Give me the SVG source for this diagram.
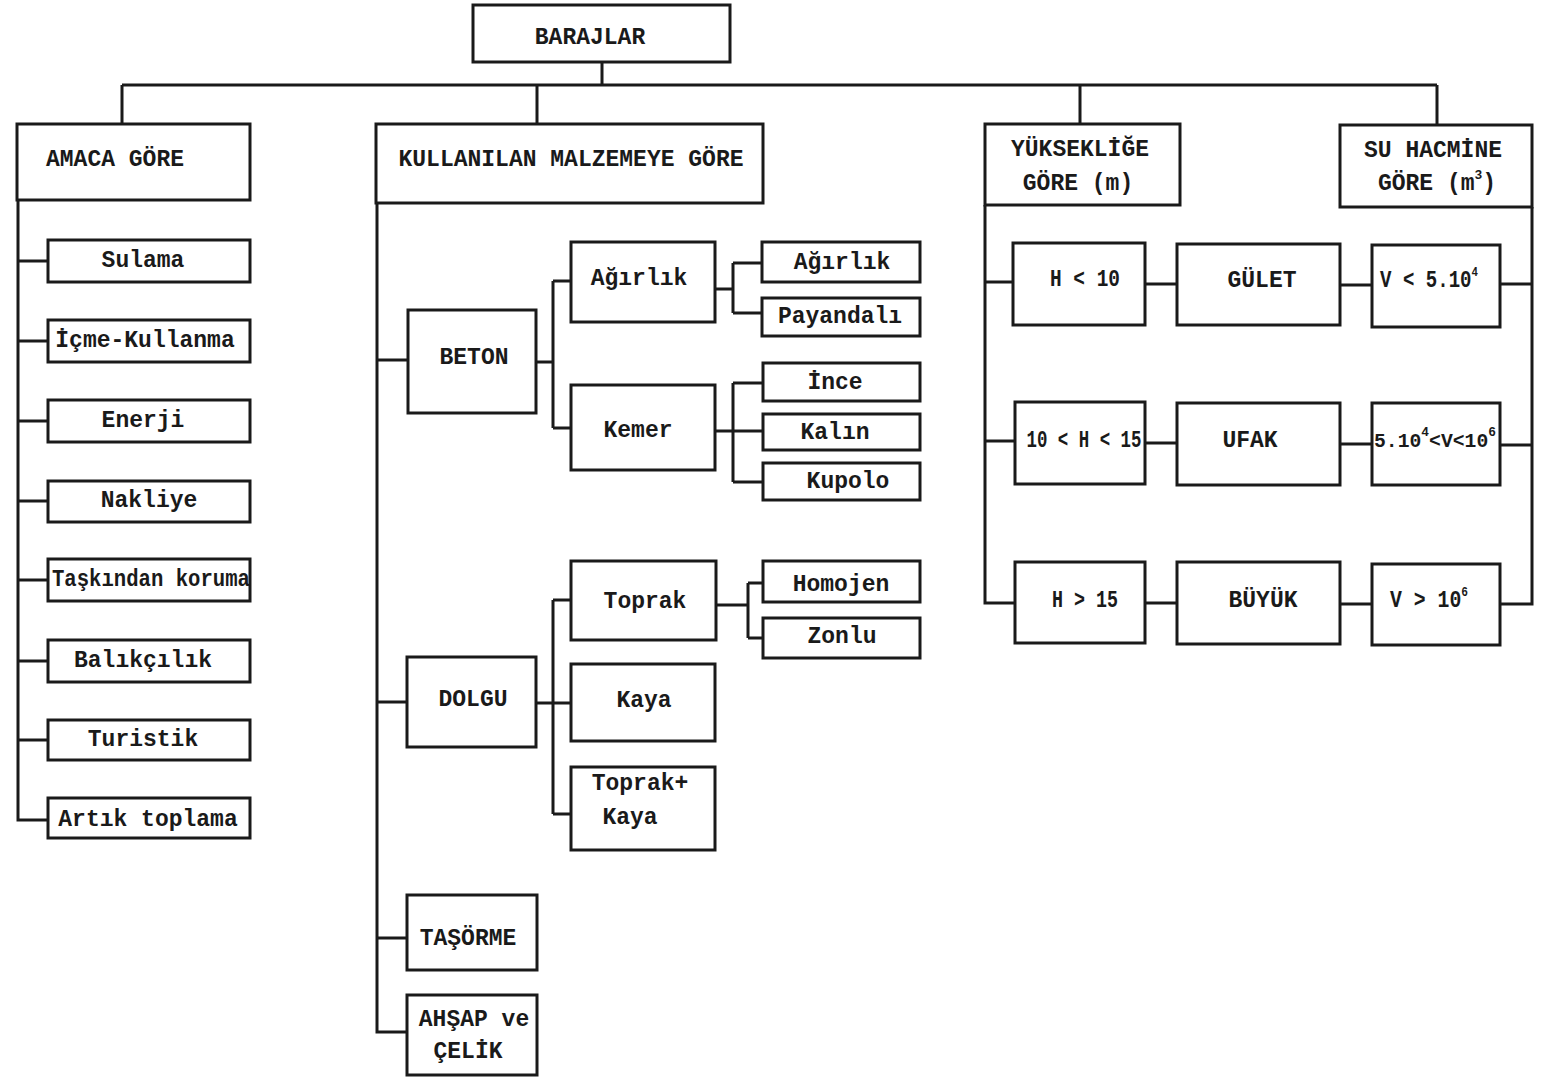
<svg xmlns="http://www.w3.org/2000/svg" width="1553" height="1077" viewBox="0 0 1553 1077">
<style>
rect{fill:#fff;stroke:#1a1a1a;stroke-width:3}
.c path,.c line{fill:none;stroke:#1a1a1a;stroke-width:3}
text{font-family:"Liberation Mono","DejaVu Sans Mono",monospace;font-size:23px;fill:#1a1a1a;text-anchor:middle;dominant-baseline:central;font-weight:bold}
.sup{font-size:13px}
</style>
<rect width="1553" height="1077" style="fill:#fff;stroke:none"/>
<g class="c" id="connectors">
<path d="M602 62V85M122 85H1437M122 85V124M537 85V124M1080 85V124M1437 85V125"/>
<path d="M18 200V820H48M18 261H48M18 341H48M18 421H48M18 501H48M18 580H48M18 661H48M18 740H48"/>
<path d="M377 203V1032H407M377 360H408M377 702H407M377 938H407"/>
<path d="M536 362H553M553 281V428M553 281H571M553 428H571"/>
<path d="M715 289H733M733 263V313M733 263H762M733 313H762"/>
<path d="M715 431H762M733 383V482M733 383H763M733 482H763"/>
<path d="M536 703H571M553 600V814M553 600H571M553 814H571"/>
<path d="M716 605H748M748 583V638M748 583H763M748 638H763"/>
<path d="M985 205V603H1015M985 282H1013M985 441H1015"/>
<path d="M1145 284H1177M1340 285H1372M1145 443H1177M1340 444H1372M1145 603H1177M1340 604H1372"/>
<path d="M1532 207V604H1500M1500 284H1532M1500 445H1532"/>
</g>
<g id="n-barajlar"><rect x="473" y="5" width="257" height="57"/><text x="590" y="38">BARAJLAR</text></g>
<g id="n-amaca"><rect x="17" y="124" width="233" height="76"/><text x="115" y="160">AMACA GÖRE</text></g>
<g id="n-malzeme"><rect x="376" y="124" width="387" height="79"/><text x="571" y="160">KULLANILAN MALZEMEYE GÖRE</text></g>
<g id="n-yukseklik"><rect x="985" y="124" width="195" height="81"/><text x="1080" y="150">YÜKSEKLİĞE</text><text x="1078" y="184">GÖRE (m)</text></g>
<g id="n-hacim"><rect x="1340" y="125" width="192" height="82"/><text x="1433" y="151">SU HACMİNE</text><text x="1437" y="184">GÖRE (m<tspan class="sup" dy="-9">3</tspan><tspan dy="9">)</tspan></text></g>
<g id="n-sulama"><rect x="48" y="240" width="202" height="42"/><text x="143" y="261">Sulama</text></g>
<g id="n-icme"><rect x="48" y="320" width="202" height="42"/><text x="145" y="341">İçme-Kullanma</text></g>
<g id="n-enerji"><rect x="48" y="400" width="202" height="42"/><text x="143" y="421">Enerji</text></g>
<g id="n-nakliye"><rect x="48" y="481" width="202" height="41"/><text x="149" y="501">Nakliye</text></g>
<g id="n-taskin"><rect x="48" y="559" width="202" height="42"/><text x="151" y="580" textLength="198" lengthAdjust="spacingAndGlyphs">Taşkından koruma</text></g>
<g id="n-balik"><rect x="48" y="640" width="202" height="42"/><text x="143" y="661">Balıkçılık</text></g>
<g id="n-turistik"><rect x="48" y="720" width="202" height="40"/><text x="143" y="740">Turistik</text></g>
<g id="n-artik"><rect x="48" y="798" width="202" height="40"/><text x="148" y="820">Artık toplama</text></g>
<g id="n-beton"><rect x="408" y="310" width="128" height="103"/><text x="474" y="358">BETON</text></g>
<g id="n-agirlik"><rect x="571" y="242" width="144" height="80"/><text x="639" y="279">Ağırlık</text></g>
<g id="n-kemer"><rect x="571" y="385" width="144" height="85"/><text x="638" y="431">Kemer</text></g>
<g id="n-agirlik2"><rect x="762" y="242" width="158" height="40"/><text x="842" y="263">Ağırlık</text></g>
<g id="n-payandali"><rect x="762" y="298" width="158" height="38"/><text x="840" y="317">Payandalı</text></g>
<g id="n-ince"><rect x="763" y="363" width="157" height="38"/><text x="835" y="383">İnce</text></g>
<g id="n-kalin"><rect x="763" y="414" width="157" height="36"/><text x="835" y="433">Kalın</text></g>
<g id="n-kupolo"><rect x="763" y="463" width="157" height="37"/><text x="848" y="482">Kupolo</text></g>
<g id="n-dolgu"><rect x="407" y="657" width="129" height="90"/><text x="473" y="700">DOLGU</text></g>
<g id="n-toprak"><rect x="571" y="561" width="145" height="79"/><text x="645" y="602">Toprak</text></g>
<g id="n-kaya"><rect x="571" y="664" width="144" height="77"/><text x="644" y="701">Kaya</text></g>
<g id="n-toprakkaya"><rect x="571" y="767" width="144" height="83"/><text x="640" y="784">Toprak+</text><text x="630" y="818">Kaya</text></g>
<g id="n-homojen"><rect x="763" y="561" width="157" height="41"/><text x="841" y="585">Homojen</text></g>
<g id="n-zonlu"><rect x="763" y="618" width="157" height="40"/><text x="842" y="637">Zonlu</text></g>
<g id="n-tasorme"><rect x="407" y="895" width="130" height="75"/><text x="468" y="939">TAŞÖRME</text></g>
<g id="n-ahsap"><rect x="407" y="995" width="130" height="80"/><text x="474" y="1020">AHŞAP ve</text><text x="468" y="1052">ÇELİK</text></g>
<g id="n-h10"><rect x="1013" y="243" width="132" height="82"/><text x="1085" y="280" textLength="70" lengthAdjust="spacingAndGlyphs">H &lt; 10</text></g>
<g id="n-h1015"><rect x="1015" y="402" width="130" height="82"/><text x="1084" y="441" textLength="115" lengthAdjust="spacingAndGlyphs">10 &lt; H &lt; 15</text></g>
<g id="n-h15"><rect x="1015" y="562" width="130" height="81"/><text x="1085" y="601" textLength="66" lengthAdjust="spacingAndGlyphs">H &gt; 15</text></g>
<g id="n-golet"><rect x="1177" y="244" width="163" height="81"/><text x="1262" y="281">GÜLET</text></g>
<g id="n-ufak"><rect x="1177" y="403" width="163" height="82"/><text x="1250" y="441">UFAK</text></g>
<g id="n-buyuk"><rect x="1177" y="562" width="163" height="82"/><text x="1263" y="601">BÜYÜK</text></g>
<g id="n-v1"><rect x="1372" y="245" width="128" height="82"/><text x="1429" y="281" textLength="98" lengthAdjust="spacingAndGlyphs">V &lt; 5.10<tspan class="sup" dy="-9">4</tspan></text></g>
<g id="n-v2"><rect x="1372" y="403" width="128" height="82"/><text x="1435" y="441" style="font-size:20px" textLength="122" lengthAdjust="spacingAndGlyphs">5.10<tspan class="sup" dy="-9">4</tspan><tspan dy="9">&lt;V&lt;10</tspan><tspan class="sup" dy="-9">6</tspan></text></g>
<g id="n-v3"><rect x="1372" y="564" width="128" height="81"/><text x="1429" y="601" textLength="78" lengthAdjust="spacingAndGlyphs">V &gt; 10<tspan class="sup" dy="-9">6</tspan></text></g>
</svg>
